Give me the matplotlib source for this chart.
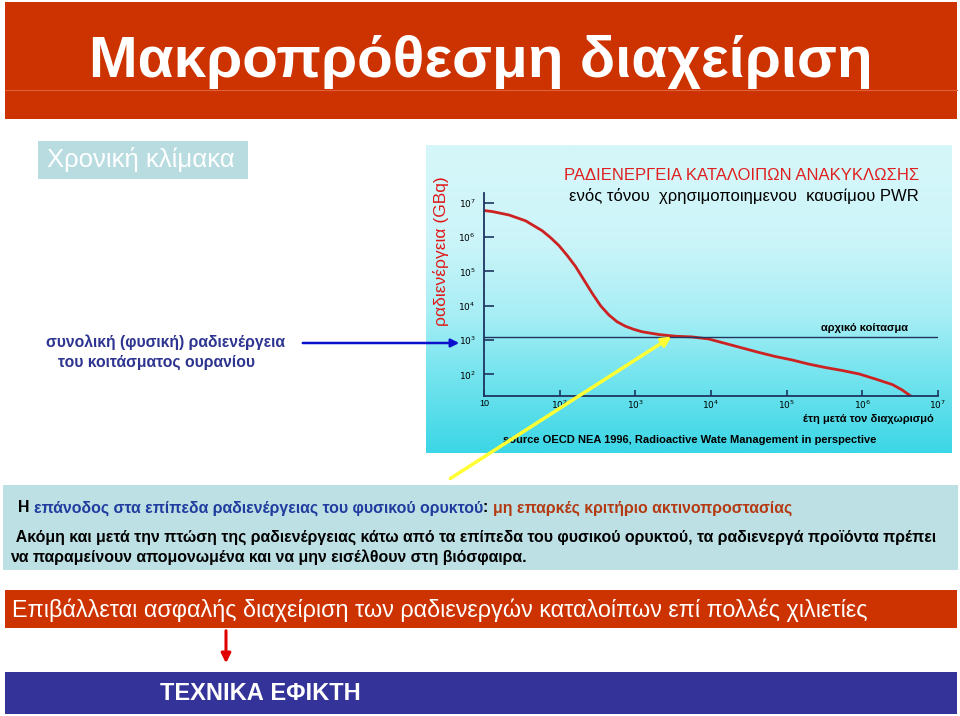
import numpy as np
import matplotlib
matplotlib.use("Agg")
from matplotlib import pyplot as plt
from matplotlib.colors import LinearSegmentedColormap

plt.rcParams['font.family'] = ['Liberation Sans', 'DejaVu Sans']

# Data (years after separation, activity in GBq)
years = [10**1.00, 10**1.11, 10**1.33, 10**1.55, 10**1.77, 10**1.88, 10**1.99,
         10**2.10, 10**2.21, 10**2.32, 10**2.43, 10**2.54, 10**2.65, 10**2.76,
         10**2.87, 10**2.98, 10**3.09, 10**3.31, 10**3.53, 10**3.75, 10**3.97,
         10**4.19, 10**4.41, 10**4.63, 10**4.85, 10**5.07, 10**5.29, 10**5.51,
         10**5.74, 10**5.96, 10**6.18, 10**6.40, 10**6.53, 10**6.64]
activity = [10**6.77, 10**6.74, 10**6.64, 10**6.47, 10**6.18, 10**5.98, 10**5.75,
            10**5.46, 10**5.14, 10**4.75, 10**4.36, 10**4.00, 10**3.73, 10**3.53,
            10**3.40, 10**3.31, 10**3.24, 10**3.16, 10**3.11, 10**3.09, 10**3.03,
            10**2.90, 10**2.77, 10**2.64, 10**2.52, 10**2.42, 10**2.30, 10**2.20,
            10**2.11, 10**2.01, 10**1.86, 10**1.70, 10**1.54, 10**1.37]
ore_level = 10**3.10  # αρχικό κοίτασμα

xticks = [1e1, 1e2, 1e3, 1e4, 1e5, 1e6, 1e7]
xlabels = ['10', '$10^2$', '$10^3$', '$10^4$', '$10^5$', '$10^6$', '$10^7$']
yticks = [1e2, 1e3, 1e4, 1e5, 1e6, 1e7]
ylabels = ['$10^2$', '$10^3$', '$10^4$', '$10^5$', '$10^6$', '$10^7$']

W, H = 960, 716
fig = plt.figure(figsize=(9.6, 7.16), dpi=100)

# slide canvas in pixel coordinates (drawn on top of the chart)
sl = fig.add_axes([0, 0, 1, 1])
sl.set_xlim(0, W)
sl.set_ylim(H, 0)
sl.axis('off')
sl.set_zorder(5)

def box(x0, y0, x1, y1, color, z=1):
    sl.add_patch(plt.Rectangle((x0, y0), x1 - x0, y1 - y0, color=color, lw=0, zorder=z))

# title bar
box(5, 2, 957, 119, '#CC3300')
sl.plot([5, 957], [90, 90], color='#E0603A', lw=0.8, zorder=2)
sl.text(481, 62, 'Μακροπρόθεσμη διαχείριση', color='white', fontsize=42,
        fontweight='bold', ha='center', va='center', zorder=3)

# time-scale label
box(38, 141, 248, 179, '#B8DCE0')
sl.text(47, 160, 'Χρονική κλίμακα', color='white', fontsize=18.5, va='center', zorder=3)

# left annotation
sl.text(165, 342, 'συνολική (φυσική) ραδιενέργεια', color='#2E3590', fontsize=11.3,
        fontweight='bold', ha='center', va='center')
sl.text(157, 362, 'του κοιτάσματος ουρανίου', color='#2E3590', fontsize=11.3,
        fontweight='bold', ha='center', va='center')

# chart panel background
panel = fig.add_axes([426 / W, 1 - 453 / H, (952 - 426) / W, (453 - 145) / H])
grad = LinearSegmentedColormap.from_list(
    'bg', [(0, '#D6F7FA'), (0.3, '#CDF5F9'), (0.55, '#A8EEF5'),
           (0.75, '#74E4EE'), (1, '#3CD6E6')])
panel.imshow(np.linspace(0, 1, 200)[:, None], aspect='auto', cmap=grad,
             extent=[0, 1, 1, 0])
panel.set_xlim(0, 1)
panel.set_ylim(1, 0)
panel.axis('off')

# chart axes
ax = fig.add_axes([484 / W, 1 - 396 / H, (938 - 484) / W, (396 - 193) / H])
ax.patch.set_alpha(0)
ax.set_xscale('log')
ax.set_yscale('log')
ax.set_xlim(10, 1e7)
ax.set_ylim(10**1.37, 10**7.28)
ax.plot(years, activity, color='#CC2222', lw=2)
ax.plot([10, 1e7], [ore_level, ore_level], color='#1E3560', lw=1)
for s in ['top', 'right']:
    ax.spines[s].set_visible(False)
for s in ['left', 'bottom']:
    ax.spines[s].set_color('#1E3560')
    ax.spines[s].set_linewidth(1.3)
ax.set_xticks(xticks)
ax.set_xticklabels(xlabels)
ax.set_yticks(yticks)
ax.set_yticklabels(ylabels)
ax.minorticks_off()
ax.tick_params(axis='y', direction='in', length=7, width=1.2, color='#1E3560',
               labelsize=6.5, pad=6)
ax.tick_params(axis='x', direction='in', length=4, width=1.2, color='#1E3560',
               labelsize=6.5, pad=2)
ax.set_ylabel('ραδιενέργεια (GBq)', color='#E01818', fontsize=12.5)
ax.yaxis.set_label_coords(-0.076, 0.714)
ax.set_xlabel('έτη μετά τον διαχωρισμό', fontsize=8, fontweight='bold', loc='right')
ax.xaxis.set_label_coords(0.99, -0.09)
ax.text(0.934, ore_level * 1.3, 'αρχικό κοίτασμα', transform=ax.get_yaxis_transform(),
        fontsize=8, fontweight='bold', ha='right', va='bottom')

sl.text(919, 176, 'ΡΑΔΙΕΝΕΡΓΕΙΑ ΚΑΤΑΛΟΙΠΩΝ ΑΝΑΚΥΚΛΩΣΗΣ', color='#E02020',
        fontsize=12, ha='right', va='center', zorder=5)
sl.text(919, 196, 'ενός τόνου  χρησιμοποιημενου  καυσίμου PWR', color='black',
        fontsize=12, ha='right', va='center', zorder=5)
sl.text(503, 440, 'source OECD NEA 1996, Radioactive Wate Management in perspective',
        fontsize=8, fontweight='bold', va='center', zorder=5)

# arrows
sl.annotate('', xy=(462, 343), xytext=(300, 343),
            arrowprops=dict(arrowstyle='-|>', color='#0A10CC', lw=1.8,
                            mutation_scale=12), zorder=6)
sl.annotate('', xy=(674, 335), xytext=(448, 480),
            arrowprops=dict(arrowstyle='-|>', color='#FFFF33', lw=2.5,
                            mutation_scale=14), zorder=6)

# explanation box
box(3, 485, 958, 570, '#BDE0E5')
t = sl.text(18, 508, 'Η ', fontsize=11.4, fontweight='bold', va='center', zorder=3)
t = sl.annotate('επάνοδος στα επίπεδα ραδιενέργειας του φυσικού ορυκτού',
                xy=(1, 0), xycoords=t, va='bottom', fontsize=11.4, fontweight='bold',
                color='#1F3C9E', zorder=3)
t = sl.annotate(': ', xy=(1, 0), xycoords=t, va='bottom', fontsize=11.4,
                fontweight='bold', zorder=3)
sl.annotate('μη επαρκές κριτήριο ακτινοπροστασίας', xy=(1, 0), xycoords=t,
            va='bottom', fontsize=11.4, fontweight='bold', color='#B33A12', zorder=3)
sl.text(12, 537, ' Ακόμη και μετά την πτώση της ραδιενέργειας κάτω από τα επίπεδα του '
        'φυσικού ορυκτού, τα ραδιενεργά προϊόντα πρέπει',
        fontsize=11.4, fontweight='bold', va='center', zorder=3)
sl.text(10, 557, 'να παραμείνουν απομονωμένα και να μην εισέλθουν στη βιόσφαιρα.',
        fontsize=11.4, fontweight='bold', va='center', zorder=3)

# conclusion bar
box(5, 590, 957, 628, '#CC3300')
sl.text(12, 610, 'Επιβάλλεται ασφαλής διαχείριση των ραδιενεργών καταλοίπων επί πολλές χιλιετίες',
        color='white', fontsize=16.8, va='center', zorder=3)
sl.annotate('', xy=(226, 666), xytext=(226, 628),
            arrowprops=dict(arrowstyle='-|>', color='#E00000', lw=2.2,
                            mutation_scale=14), zorder=6)

box(5, 672, 957, 714, '#333399')
sl.text(160, 693, 'ΤΕΧΝΙΚΑ ΕΦΙΚΤΗ', color='white', fontsize=17, fontweight='bold',
        va='center', zorder=3)

fig.savefig('out.png', dpi=100)
